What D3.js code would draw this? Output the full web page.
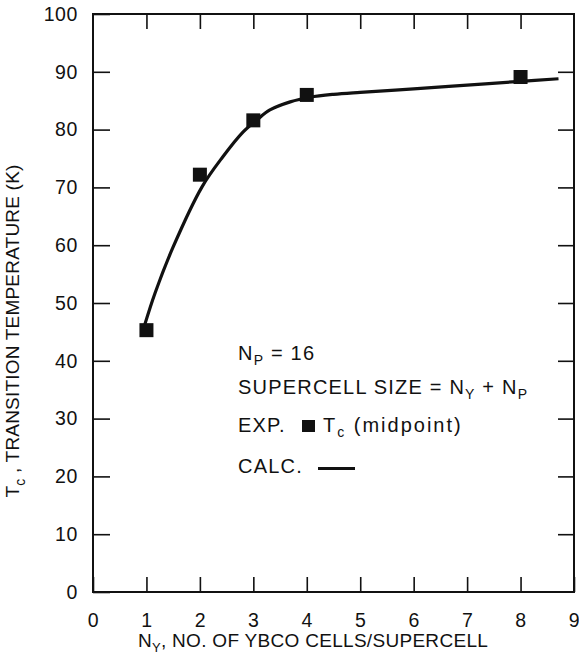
<!DOCTYPE html>
<html>
<head>
<meta charset="utf-8">
<script src="https://cdn.jsdelivr.net/npm/d3@7"></script>
<style>
  html, body { margin: 0; padding: 0; background: #fff; }
  svg { display: block; }
  text { font-family: "Liberation Sans", Arial, Helvetica, sans-serif; fill: #111; }
</style>
</head>
<body>
<svg id="chart" width="579" height="658"></svg>
<script>
// ---- data ----
const expNy = [1, 2, 3, 4, 8];
const expTc = [45.3, 72.2, 81.6, 86.0, 89.1];
const calcNy = [0.97, 1.16, 1.5, 2.04, 2.43, 2.81, 3.07, 3.31, 3.69, 4.06, 4.5, 5, 6, 7, 8, 8.71];
const calcTc = [46.3, 51.7, 59.7, 70.1, 75.3, 79.6, 81.7, 83.4, 84.8, 85.6, 86.1, 86.45, 87.05, 87.7, 88.35, 88.8];
const xTickLabels = [0, 1, 2, 3, 4, 5, 6, 7, 8, 9];
const yTickLabels = [0, 10, 20, 30, 40, 50, 60, 70, 80, 90, 100];

// ---- layout ----
const svg = d3.select("#chart");
const pLeft = 93, pRight = 574, pTop = 14, pBottom = 592;
const x = d3.scaleLinear().domain([0, 9]).range([pLeft, pRight]);
const y = d3.scaleLinear().domain([0, 100]).range([pBottom, pTop]);
const tickLen = 15;
const ink = "#111";

// frame
svg.append("rect")
  .attr("x", pLeft).attr("y", pTop)
  .attr("width", pRight - pLeft).attr("height", pBottom - pTop)
  .attr("fill", "none").attr("stroke", ink).attr("stroke-width", 2);

function styleAxis(g) {
  g.select(".domain").remove();
  g.selectAll(".tick line").attr("stroke", ink).attr("stroke-width", 1.6);
  g.selectAll(".tick text").attr("font-size", 19.5).attr("letter-spacing", 0.6).attr("fill", ink)
    .style("font-family", "'Liberation Sans', Arial, sans-serif");
}

// bottom axis
svg.append("g").attr("transform", `translate(0,${pBottom})`)
  .call(d3.axisBottom(x).tickValues(xTickLabels).tickFormat(d3.format("d"))
    .tickSizeInner(-tickLen).tickSizeOuter(0).tickPadding(21))
  .call(styleAxis);
// top axis (ticks only)
svg.append("g").attr("transform", `translate(0,${pTop})`)
  .call(d3.axisTop(x).tickValues(xTickLabels.slice(1, -1)).tickFormat("")
    .tickSizeInner(-tickLen).tickSizeOuter(0))
  .call(styleAxis);
// left axis
svg.append("g").attr("transform", `translate(${pLeft},0)`)
  .call(d3.axisLeft(y).tickValues(yTickLabels).tickFormat(d3.format("d"))
    .tickSizeInner(-17).tickSizeOuter(0).tickPadding(15))
  .call(styleAxis);
// right axis (ticks only)
svg.append("g").attr("transform", `translate(${pRight},0)`)
  .call(d3.axisRight(y).tickValues(yTickLabels.slice(1, -1)).tickFormat("")
    .tickSizeInner(-16).tickSizeOuter(0))
  .call(styleAxis);

// calculated curve
const calcData = calcNy.map((d, i) => ({ x: d, y: calcTc[i] }));
svg.append("path")
  .datum(calcData)
  .attr("fill", "none").attr("stroke", ink).attr("stroke-width", 3.2)
  .attr("stroke-linecap", "butt")
  .attr("d", d3.line().x(d => x(d.x)).y(d => y(d.y)).curve(d3.curveCatmullRom.alpha(0.5)));

// experimental points
const ms = 14;
svg.append("g").selectAll("rect")
  .data(expNy.map((d, i) => ({ x: d, y: expTc[i] })))
  .join("rect")
  .attr("x", d => x(d.x) - ms / 2).attr("y", d => y(d.y) - ms / 2)
  .attr("width", ms).attr("height", ms).attr("fill", ink);

// axis titles
const xt = svg.append("text")
  .attr("x", 313).attr("y", 647)
  .attr("text-anchor", "middle").attr("font-size", 19).attr("letter-spacing", 0.3);
xt.append("tspan").text("N");
xt.append("tspan").attr("font-size", 13).attr("dy", 5).text("Y");
xt.append("tspan").attr("dy", -5).text(", NO. OF YBCO CELLS/SUPERCELL");

const yt = svg.append("text")
  .attr("transform", `translate(19,331) rotate(-90)`)
  .attr("text-anchor", "middle").attr("font-size", 19).attr("letter-spacing", 0.2);
yt.append("tspan").text("T");
yt.append("tspan").attr("font-size", 14).attr("dy", 6).text("c");
yt.append("tspan").attr("dy", -6).text(" , TRANSITION TEMPERATURE (K)");

// legend / annotations
const lx = 238;
const fs = 20;
const ls = 1.2;
const t1 = svg.append("text").attr("x", lx).attr("y", 360).attr("font-size", fs).attr("letter-spacing", ls);
t1.append("tspan").text("N");
t1.append("tspan").attr("font-size", 14).attr("dy", 5).text("P");
t1.append("tspan").attr("dy", -5).text(" = 16");

const t2 = svg.append("text").attr("x", lx).attr("y", 394).attr("font-size", fs).attr("letter-spacing", ls);
t2.append("tspan").text("SUPERCELL SIZE = N");
t2.append("tspan").attr("font-size", 14).attr("dy", 5).text("Y");
t2.append("tspan").attr("dy", -5).text(" + N");
t2.append("tspan").attr("font-size", 14).attr("dy", 5).text("P");

svg.append("text").attr("x", lx).attr("y", 432).attr("font-size", fs).attr("letter-spacing", ls).text("EXP.");
svg.append("rect").attr("x", 302).attr("y", 420).attr("width", 13).attr("height", 12).attr("fill", ink);
const t3 = svg.append("text").attr("x", 323).attr("y", 432).attr("font-size", fs).attr("letter-spacing", 2);
t3.append("tspan").text("T");
t3.append("tspan").attr("font-size", 14).attr("dy", 5).text("c");
t3.append("tspan").attr("dy", -5).text(" (midpoint)");

svg.append("text").attr("x", lx).attr("y", 473).attr("font-size", fs).attr("letter-spacing", ls).text("CALC.");
svg.append("line").attr("x1", 318).attr("x2", 355).attr("y1", 468.5).attr("y2", 468.5)
  .attr("stroke", ink).attr("stroke-width", 3);
</script>
</body>
</html>
